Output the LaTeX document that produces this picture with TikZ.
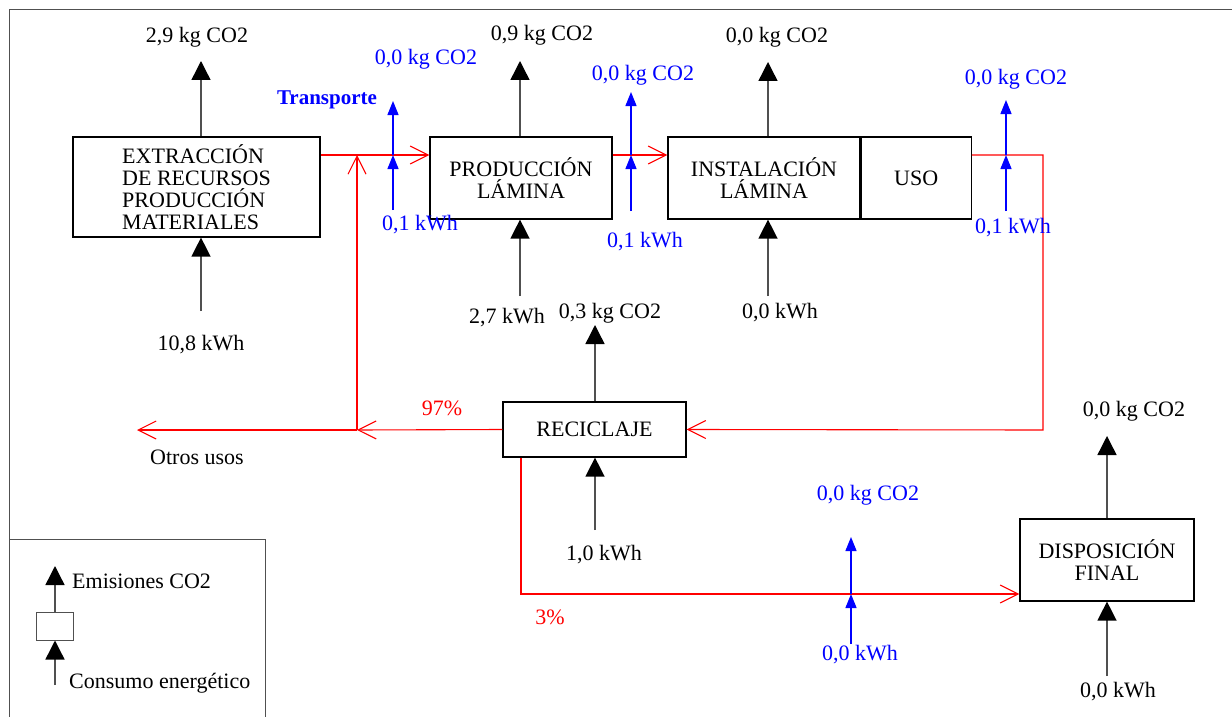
\documentclass[tikz,border=0pt]{standalone}
\usepackage{fontspec}
\setmainfont{Liberation Serif}
\usetikzlibrary{arrows.meta,positioning}
\definecolor{lcblue}{RGB}{0,0,255}
\definecolor{lcred}{RGB}{255,0,0}
\definecolor{lcgray}{RGB}{80,80,80}

\begin{document}
\begin{tikzpicture}[x=1pt, y=-1pt,
  every node/.style={font=\fontsize{22}{22}\selectfont, inner sep=0pt},
  procbox/.style={draw=black, line width=1.2pt, align=center},
  emis/.style={lcgray, line width=1.4pt, -{Triangle[length=19pt,width=19pt,color=black]}},
  transp/.style={lcblue, line width=1.3pt, -{Triangle[length=14pt,width=11pt]}},
  flow/.style={lcred, line width=1.1pt, -{Straight Barb[length=18pt,width=18pt]}},
  bluelbl/.style={text=lcblue},
  redlbl/.style={text=lcred}]

\useasboundingbox (0,0) rectangle (1232,717);

% Frame
\draw[lcgray, line width=1pt] (9,539) -- (9,10) -- (1240,10);

% level of the main flow
\coordinate (lvl) at (0,155);

% Box 1: extraccion
\node[procbox, minimum width=247pt, minimum height=100pt, align=left] (ext) at (196.5,187)
  {EXTRACCIÓN\\DE RECURSOS\\PRODUCCIÓN\\MATERIALES};
\coordinate (extup) at (201,61);
\coordinate (extdn) at (201,311);
\draw[emis] (ext.north -| extup) -- (extup);
\draw[emis] (extdn) -- (ext.south -| extdn);
\node (co2ext) at (197,37) {2,9 kg CO2};
\node (kwhext) at (201,345) {10,8 kWh};

% Box 2: produccion lamina
\node[procbox, minimum width=182pt, minimum height=82pt] (prod) at (521,178)
  {PRODUCCIÓN\\LÁMINA};
\coordinate (produp) at (520,61);
\coordinate (proddn) at (520,296);
\draw[emis] (prod.north -| produp) -- (produp);
\draw[emis] (proddn) -- (prod.south -| proddn);
\node (co2prod) at (542,35) {0,9 kg CO2};
\node (kwhprod) at (507,318) {2,7 kWh};

% Box 3: instalacion + uso
\node[procbox, minimum width=192pt, minimum height=82pt] (inst) at (764,178)
  {INSTALACIÓN\\LÁMINA};
\node[procbox, minimum width=110pt, minimum height=82pt, right=0pt of inst] (uso) {USO};
\coordinate (instup) at (768,62);
\coordinate (instdn) at (768,296);
\draw[emis] (inst.north -| instup) -- (instup);
\draw[emis] (instdn) -- (inst.south -| instdn);
\node (co2inst) at (777,37) {0,0 kg CO2};
\node (kwhinst) at (780,313) {0,0 kWh};

% Box 4: reciclaje
\node[procbox, minimum width=183pt, minimum height=55pt] (recic) at (594.5,429.5) {RECICLAJE};
\coordinate (recicup) at (595,325);
\coordinate (recicdn) at (595,530);
\draw[emis] (recic.north -| recicup) -- (recicup);
\draw[emis] (recicdn) -- (recic.south -| recicdn);
\node (co2recic) at (610,313) {0,3 kg CO2};
\node (kwhrecic) at (604,555) {1,0 kWh};

% Box 5: disposicion final
\node[procbox, minimum width=174pt, minimum height=82pt] (disp) at (1107,560)
  {DISPOSICIÓN\\FINAL};
\coordinate (dispup) at (1107,436);
\coordinate (dispdn) at (1107,676);
\draw[emis] (disp.north -| dispup) -- (dispup);
\draw[emis] (dispdn) -- (disp.south -| dispdn);
\node (co2disp) at (1134,411) {0,0 kg CO2};
\node (kwhdisp) at (1118,692) {0,0 kWh};

% Material flow
\coordinate (split) at (357,430);
\coordinate (otrosend) at (137,430);
\coordinate (turna) at (1043,155);
\coordinate (turnb) at (1043,430);
\coordinate (bend) at (521,594);
\draw[flow] (ext.east |- lvl) -- (prod.west |- lvl);
\draw[flow] (prod.east |- lvl) -- (inst.west |- lvl);
\draw[flow] (uso.east |- lvl) -- (turna) -- (turnb) -- (recic.east);
\draw[flow] (recic.west) -- (split);
\draw[flow] (split) -- (otrosend);
\draw[flow] (split) -- (split |- lvl);
\draw[flow] (recic.south -| bend) -- (bend) -- (disp.west |- bend);
\node[redlbl] (pct97) at (442,408) {97\%};
\node[redlbl] (pct3) at (550,617) {3\%};
\node (otros) at (197,457) {Otros usos};

% Transport arrows
\coordinate (tra) at (393,210);
\coordinate (trb) at (393,101);
\draw[transp] (tra) -- (tra |- lvl);
\draw[transp] (tra |- lvl) -- (trb);
\node[bluelbl, font=\fontsize{21}{22}\selectfont\bfseries] (transporte) at (327,100) {Transporte};
\node[bluelbl] (co2tra) at (426,59) {0,0 kg CO2};
\node[bluelbl] (kwhtra) at (420,225) {0,1 kWh};

\coordinate (trc) at (631,211);
\coordinate (trd) at (631,92);
\draw[transp] (trc) -- (trc |- lvl);
\draw[transp] (trc |- lvl) -- (trd);
\node[bluelbl] (co2trb) at (643,75) {0,0 kg CO2};
\node[bluelbl] (kwhtrb) at (645,242) {0,1 kWh};

\coordinate (tre) at (1006,211);
\coordinate (trf) at (1006,100);
\draw[transp] (tre) -- (tre |- lvl);
\draw[transp] (tre |- lvl) -- (trf);
\node[bluelbl] (co2trc) at (1016,79) {0,0 kg CO2};
\node[bluelbl] (kwhtrc) at (1013,228) {0,1 kWh};

\coordinate (trg) at (851,644);
\coordinate (trh) at (851,537);
\draw[transp] (trg) -- (trg |- bend);
\draw[transp] (trg |- bend) -- (trh);
\node[bluelbl] (co2trd) at (868,495) {0,0 kg CO2};
\node[bluelbl] (kwhtrd) at (860,655) {0,0 kWh};

% Legend
\draw[lcgray, line width=1pt] (9,730) -- (9,539) -- (265,539) -- (265,730);
\node[draw=lcgray, line width=1pt, minimum width=37pt, minimum height=28pt] (legbox) at (55,626) {};
\coordinate (legup) at (55,566);
\coordinate (legdn) at (55,685);
\draw[emis] (legbox.north) -- (legup);
\draw[emis] (legdn) -- (legbox.south);
\node[anchor=west] (legemis) at (72,581) {Emisiones CO2};
\node[anchor=west] (legcons) at (69,683) {Consumo energético};

\end{tikzpicture}
\end{document}
